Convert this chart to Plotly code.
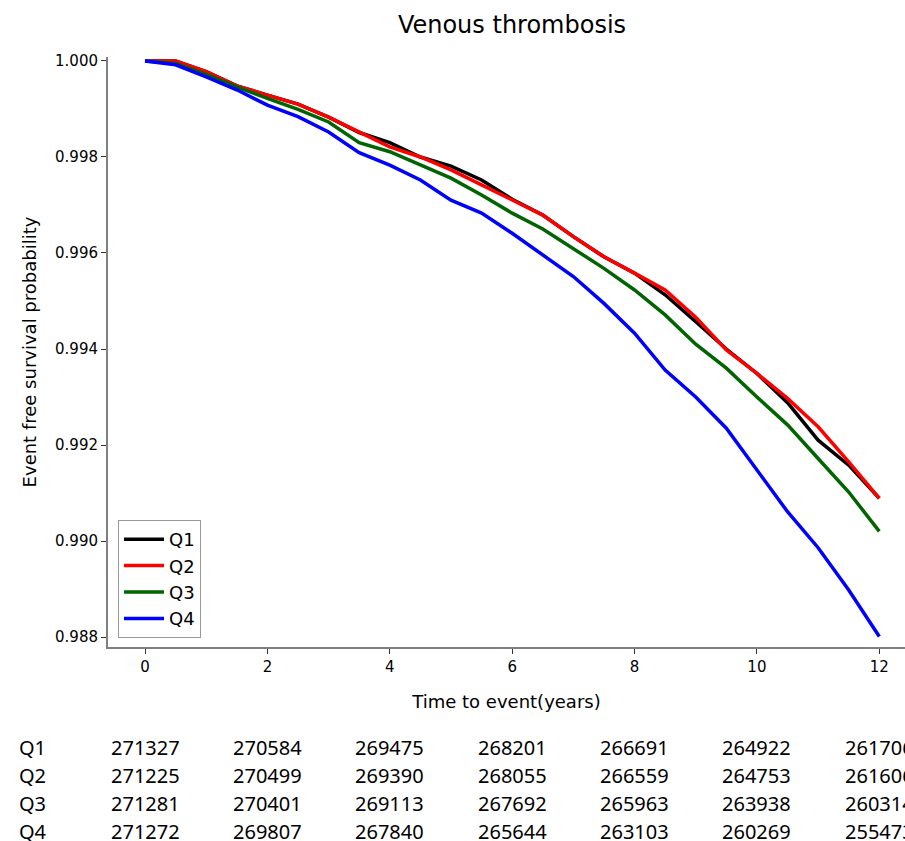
import plotly.graph_objects as go

time = [0, 0.5, 1, 1.5, 2, 2.5, 3, 3.5, 4, 4.5, 5, 5.5, 6, 6.5, 7, 7.5, 8, 8.5, 9, 9.5, 10, 10.5, 11, 11.5, 12]

q1 = [1.0000, 1.0000, 0.99978, 0.99948, 0.99929, 0.99910, 0.99883, 0.99851, 0.99830, 0.99800,
      0.99781, 0.99752, 0.99712, 0.99679, 0.99634, 0.99592, 0.99558, 0.99513, 0.99457, 0.99400,
      0.99349, 0.99288, 0.99210, 0.99158, 0.99089]
q2 = [1.0000, 1.0000, 0.99978, 0.99948, 0.99929, 0.99910, 0.99883, 0.99851, 0.99821, 0.99800,
      0.99773, 0.99742, 0.99710, 0.99679, 0.99634, 0.99592, 0.99558, 0.99523, 0.99466, 0.99398,
      0.99349, 0.99297, 0.99238, 0.99165, 0.99089]
q3 = [1.0000, 0.99995, 0.99972, 0.99946, 0.99922, 0.99899, 0.99873, 0.99830, 0.99811, 0.99783,
      0.99756, 0.99721, 0.99683, 0.99650, 0.99610, 0.99568, 0.99523, 0.99471, 0.99410, 0.99360,
      0.99300, 0.99242, 0.99172, 0.99102, 0.99020]
q4 = [1.0000, 0.99992, 0.99967, 0.99940, 0.99908, 0.99884, 0.99852, 0.99809, 0.99783, 0.99752,
      0.99710, 0.99683, 0.99641, 0.99596, 0.99551, 0.99495, 0.99433, 0.99356, 0.99300, 0.99235,
      0.99148, 0.99061, 0.98986, 0.98898, 0.98801]

series_names = ["Q1", "Q2", "Q3", "Q4"]
series_colors = ["#000000", "#ff0000", "#006400", "#0000ff"]

risk_times = [0, 2, 4, 6, 8, 10, 12]
risk_q1 = [271327, 270584, 269475, 268201, 266691, 264922, 261706]
risk_q2 = [271225, 270499, 269390, 268055, 266559, 264753, 261606]
risk_q3 = [271281, 270401, 269113, 267692, 265963, 263938, 260314]
risk_q4 = [271272, 269807, 267840, 265644, 263103, 260269, 255473]

y_ticks = [0.988, 0.990, 0.992, 0.994, 0.996, 0.998, 1.000]
x_ticks = [0, 2, 4, 6, 8, 10, 12]

W, H = 905, 841
L, R, T, B = 108, 0, 57, 194
plot_h = H - T - B
plot_w = W - L - R

fig = go.Figure()
for name, vals, col in zip(series_names, [q1, q2, q3, q4], series_colors):
    fig.add_trace(go.Scatter(x=time, y=vals, mode="lines", name=name,
                             line=dict(color=col, width=3.5)))

axis_font = dict(family="DejaVu Sans", size=15, color="#000000")

fig.update_layout(
    width=W, height=H,
    margin=dict(l=L, r=R, t=T, b=B),
    paper_bgcolor="white", plot_bgcolor="white",
    title=dict(text="Venous thrombosis", x=512 / W, xref="container", xanchor="center",
               y=1 - 25 / H, yref="container", yanchor="middle",
               font=dict(family="DejaVu Sans", size=24, color="#000000")),
    xaxis=dict(range=[-0.605, 12.42], tickvals=x_ticks, ticktext=[str(v) for v in x_ticks],
               showgrid=False, zeroline=False, showline=True, linecolor="#7f7f7f", linewidth=2,
               ticks="outside", ticklen=5, tickwidth=1, tickcolor="#333333",
               tickfont=axis_font,
               title=dict(text="Time to event(years)", font=dict(family="DejaVu Sans", size=18, color="#000000"),
                          standoff=20)),
    yaxis=dict(range=[0.987792, 1.000083], tickvals=y_ticks, ticktext=["%.3f" % v for v in y_ticks],
               showgrid=False, zeroline=False, showline=True, linecolor="#7f7f7f", linewidth=2,
               ticks="outside", ticklen=5, tickwidth=1, tickcolor="#333333",
               tickfont=axis_font,
               title=dict(text="Event free survival probability",
                          font=dict(family="DejaVu Sans", size=18, color="#000000"), standoff=14)),
    legend=dict(x=(118 - L) / plot_w, y=(647 - 638) / plot_h, xanchor="left", yanchor="bottom",
                bordercolor="#999999", borderwidth=1, bgcolor="white",
                font=dict(family="DejaVu Sans", size=18, color="#000000"),
                tracegroupgap=0, itemwidth=40),
    showlegend=True,
)

row_y_px = [747, 775, 803, 831]
table_font = dict(family="Noto Sans", size=20, color="#000000")
for name, counts, ypx in zip(series_names, [risk_q1, risk_q2, risk_q3, risk_q4], row_y_px):
    yp = (H - B - ypx) / plot_h
    fig.add_annotation(x=(17 - L) / plot_w, xref="paper", y=yp, yref="paper", text=name,
                       showarrow=False, xanchor="left", yanchor="middle", font=table_font)
    for t, c in zip(risk_times, counts):
        fig.add_annotation(x=t, xref="x", y=yp, yref="paper", text=str(c),
                           showarrow=False, xanchor="center", yanchor="middle", font=table_font)

fig.write_html("out.html", config={"displayModeBar": False},
               post_script="document.body.style.margin='0';document.body.style.overflow='hidden';")
